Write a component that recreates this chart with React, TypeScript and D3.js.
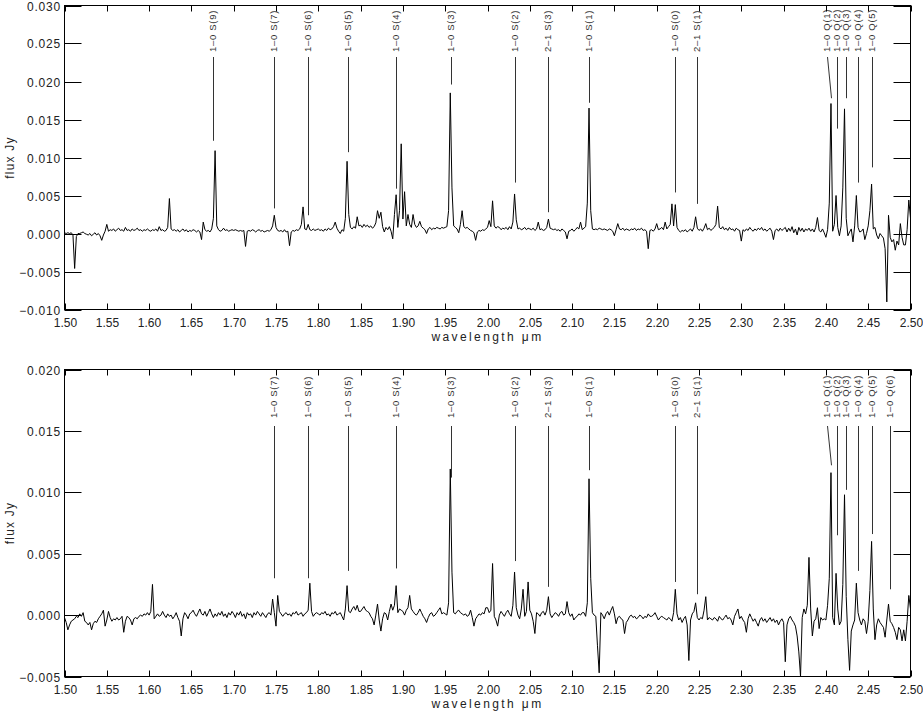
import React from "react";
import * as d3 from "d3";

// ---------- data ----------
const WAVE_MIN = 1.5;
const WAVE_MAX = 2.5;
const WAVE_STEP = 0.002; // sampling grid of the spectrum (micron)

// flux in units of 1e-4 Jy, one value per grid point (1.500 ... 2.500)
const TOP_FLUX_E4 = [
  1,0,1,0,1,-2,-46,-4,0,0,1,2,0,-1,-2,0,-3,-1,1,-2,0,-3,-9,-2,3,
  12,3,5,4,6,3,5,7,4,5,3,8,4,5,3,6,4,5,7,4,5,3,5,4,6,
  4,3,5,4,6,3,9,4,5,3,4,8,46,6,4,5,3,5,2,4,6,3,5,2,4,
  3,5,4,2,4,2,-8,15,5,3,4,2,6,20,109,10,5,3,4,7,4,5,3,4,5,
  4,5,4,3,4,3,4,-17,3,4,3,5,4,2,4,5,3,4,2,3,4,3,5,10,24,
  8,4,3,4,2,5,2,3,-16,2,4,3,5,4,6,12,35,6,5,12,5,4,6,4,5,
  6,4,5,3,6,4,7,5,6,9,15,7,3,0,5,3,20,95,25,8,6,9,7,22,10,
  11,8,12,9,11,8,10,7,9,14,30,20,28,9,2,8,5,9,3,-7,25,51,8,30,118,
  19,55,10,25,12,8,25,12,8,10,16,9,7,5,0,6,8,5,7,6,8,7,6,8,7,
  8,9,30,185,60,10,8,6,1,12,30,9,7,8,6,4,3,1,-9,2,4,3,5,4,6,
  8,17,9,43,10,7,9,8,5,7,6,8,5,9,6,15,52,18,6,7,5,6,8,5,7,
  6,5,7,4,6,15,5,6,4,5,8,19,7,6,5,6,4,5,3,6,4,2,-7,3,4,
  6,3,5,8,6,15,5,7,9,40,165,30,6,5,6,5,7,6,5,6,5,4,6,5,3,
  -3,5,13,6,5,7,4,6,5,4,6,5,7,4,6,5,7,4,5,3,-20,4,5,3,6,
  13,5,6,8,5,15,6,9,12,39,10,38,8,4,2,4,3,5,2,4,6,3,8,22,7,
  4,6,3,7,13,5,7,4,6,8,12,36,8,6,9,5,7,4,8,5,6,3,7,5,4,
  -10,5,3,6,4,8,5,3,6,4,7,5,8,4,6,3,5,7,3,-8,4,6,3,7,4,
  6,8,2,7,3,9,1,6,-2,8,3,7,2,6,4,7,3,6,2,8,21,4,2,6,1,
  -5,5,40,171,3,12,50,8,-3,10,60,164,20,-3,2,6,-11,10,50,8,2,3,6,-8,0,
  10,30,65,6,8,-2,-7,0,-3,-6,-20,-90,24,-5,-11,-8,-22,-10,-15,13,-5,-15,-15,5,44,
  20,
];

const BOTTOM_FLUX_E4 = [
  -2,-6,-12,-8,-5,-4,-3,-1,-2,1,-1,2,-5,-6,-8,-6,-12,-7,-5,-6,-3,-1,1,4,-9,
  -4,3,-2,-5,-3,-4,-2,-4,-3,-1,-14,-5,-1,-2,-4,-8,-3,-2,-3,-1,0,-1,1,0,2,
  0,3,25,-3,-1,1,-1,0,3,0,-2,1,-1,0,-3,-1,2,-2,-5,-17,-3,2,0,-3,1,
  2,4,1,-1,2,5,1,0,3,-1,2,5,1,-2,1,-1,2,0,3,-1,1,-2,2,0,3,
  1,-2,2,0,3,-1,1,-3,2,0,1,-2,2,0,3,1,-1,2,0,-2,1,2,0,13,2,
  -9,16,3,1,-1,1,2,0,1,-1,2,1,3,0,1,2,-1,1,2,4,26,3,-1,1,2,
  1,0,2,1,3,0,1,-1,2,1,3,0,1,2,-1,-4,5,24,3,2,5,7,4,8,3,
  3,5,7,4,3,2,-1,-3,-8,0,9,-4,-13,-3,2,1,-4,3,9,4,8,24,2,5,4,
  3,0,4,6,16,5,3,1,0,2,5,2,-1,-3,-6,-2,1,2,-1,0,2,4,6,1,2,
  1,0,10,119,35,2,1,3,4,2,1,0,1,-1,0,4,-2,-9,-3,-1,1,0,2,1,6,
  6,2,4,42,-1,-4,-9,0,3,1,-1,2,4,1,-1,8,35,6,0,-3,5,21,-1,3,27,
  4,1,-5,-15,2,1,-1,2,3,0,4,15,1,-2,0,2,1,-1,2,3,0,1,11,2,-1,
  1,-4,-2,-1,1,0,2,2,-1,10,111,30,2,0,-1,-25,-47,2,0,-3,1,3,0,4,7,
  1,-7,-2,-1,-3,-4,-15,-6,-4,-1,0,-2,-1,-3,-2,0,-1,-3,-1,-2,1,-1,-1,0,2,
  -1,-4,-2,-1,-2,-3,-4,-2,-3,-5,2,21,1,-4,-2,-6,-3,-1,-8,-37,-4,1,3,10,-2,
  -4,-2,-3,4,15,-4,-2,-3,-4,-2,-3,-5,-1,-3,-4,-2,0,-3,-2,-4,-8,-1,2,5,-3,
  -1,-4,-6,-14,-3,1,-2,-5,-3,-6,-9,-4,-2,-5,-3,-6,-4,-2,-5,-3,-6,-4,-8,-5,-3,
  -6,-38,-8,-3,-1,-4,-6,-9,-17,-30,-50,-2,5,1,8,47,5,-17,-5,-3,6,-11,-2,-4,-3,
  -4,8,30,116,-2,-8,34,5,-8,-5,25,98,15,-20,-45,-13,-8,-4,26,2,-4,-8,-3,-5,-15,
  -5,20,60,5,-20,-8,-3,-6,-8,-10,-18,-4,9,-5,-7,-10,-14,-20,-10,-12,-21,-12,-21,-5,16,
  5,
];

const X_TICKS = [1.5,1.55,1.6,1.65,1.7,1.75,1.8,1.85,1.9,1.95,2.0,2.05,2.1,2.15,2.2,2.25,2.3,2.35,2.4,2.45,2.5];
const TOP_Y_TICKS = [-0.01,-0.005,0,0.005,0.01,0.015,0.02,0.025,0.03];
const BOTTOM_Y_TICKS = [-0.005,0,0.005,0.01,0.015,0.02];
const TOP_Y_DOMAIN = [-0.01, 0.03];
const BOTTOM_Y_DOMAIN = [-0.005, 0.02];

// line identifications: label, wavelength of the line marker, wavelength of the label, flux at the marker's lower end
const TOP_LINE_LABELS = ["1–0 S(9)","1–0 S(7)","1–0 S(6)","1–0 S(5)","1–0 S(4)","1–0 S(3)","1–0 S(2)","2–1 S(3)","1–0 S(1)","1–0 S(0)","2–1 S(1)","1–0 Q(1)","1–0 Q(2)","1–0 Q(3)","1–0 Q(4)","1–0 Q(5)"];
const TOP_LINE_WAVES = [1.6753,1.7473,1.7875,1.8347,1.8914,1.9563,2.0330,2.0720,2.1204,2.2219,2.2479,2.4066,2.4134,2.4237,2.4375,2.4548];
const TOP_LABEL_WAVES = [1.6753,1.7473,1.7875,1.8347,1.8914,1.9563,2.0330,2.0720,2.1204,2.2219,2.2479,2.4017,2.4134,2.4237,2.4375,2.4548];
const TOP_LINE_ENDS = [0.0122,0.0033,0.0024,0.0107,0.0059,0.0196,0.0067,0.0028,0.0172,0.0054,0.0039,0.0178,0.0138,0.0178,0.0067,0.0087];

const BOTTOM_LINE_LABELS = ["1–0 S(7)","1–0 S(6)","1–0 S(5)","1–0 S(4)","1–0 S(3)","1–0 S(2)","2–1 S(3)","1–0 S(1)","1–0 S(0)","2–1 S(1)","1–0 Q(1)","1–0 Q(2)","1–0 Q(3)","1–0 Q(4)","1–0 Q(5)","1–0 Q(6)"];
const BOTTOM_LINE_WAVES = [1.7473,1.7875,1.8347,1.8914,1.9563,2.0330,2.0720,2.1204,2.2219,2.2479,2.4066,2.4134,2.4237,2.4375,2.4548,2.4756];
const BOTTOM_LABEL_WAVES = [1.7473,1.7875,1.8347,1.8914,1.9563,2.0330,2.0720,2.1204,2.2219,2.2479,2.4017,2.4134,2.4237,2.4375,2.4548,2.4756];
const BOTTOM_LINE_ENDS = [0.0030,0.0030,0.0036,0.0038,0.0112,0.0044,0.0023,0.0118,0.0027,0.0017,0.0122,0.0065,0.0102,0.0036,0.0066,0.0021];

// ---------- layout ----------
const W = 923;
const H = 712;
const X0 = 64.5;
const X1 = 910.5;
const FONT = "'Liberation Sans', Arial, Helvetica, sans-serif";
const INK = "#222";

const WAVES = d3.range(TOP_FLUX_E4.length).map((i) => WAVE_MIN + i * WAVE_STEP);

type PanelProps = {
  id: string;
  top: number;
  bottom: number;
  flux: number[];
  yDomain: number[];
  yTicks: number[];
  labels: string[];
  lineWaves: number[];
  labelWaves: number[];
  lineEnds: number[];
  textBottom: number;
  lineTop: number;
};

function fmtY(v: number) {
  const s = Math.abs(v).toFixed(3);
  return v < -1e-9 ? "\u2212" + s : s;
}

function Panel(p: PanelProps) {
  const x = d3.scaleLinear().domain([WAVE_MIN, WAVE_MAX]).range([X0, X1]);
  const y = d3.scaleLinear().domain(p.yDomain).range([p.bottom, p.top]);
  const line = d3
    .line<number>()
    .x((_, i) => x(WAVES[i]))
    .y((d) => y(d * 1e-4));
  const path = line(p.flux) || "";
  const xTickLen = 6;
  const yTickLen = 17;
  return (
    <g>
      <defs>
        <clipPath id={p.id + "-clip"}>
          <rect x={X0} y={p.top} width={X1 - X0} height={p.bottom - p.top} />
        </clipPath>
      </defs>
      {/* spectrum */}
      <path d={path} fill="none" stroke="#000" strokeWidth={1} clipPath={`url(#${p.id}-clip)`} strokeLinejoin="round" />
      {/* line markers */}
      {p.labels.map((lab, i) => {
        const lx = x(p.labelWaves[i]);
        const ex = x(p.lineWaves[i]);
        return (
          <g key={lab}>
            <line x1={Math.round(lx) + 0.5} y1={p.lineTop} x2={Math.round(ex) + 0.5} y2={y(p.lineEnds[i])} stroke="#333" strokeWidth={1} />
            <text
              transform={`translate(${Math.round(lx) - 0.5},${p.textBottom}) rotate(-90)`}
              dy="0.34em"
              fontSize={9.5}
              letterSpacing={0.7}
              fontFamily={FONT}
              fill="#333"
            >
              {lab}
            </text>
          </g>
        );
      })}
      {/* frame */}
      <rect x={X0} y={p.top} width={X1 - X0} height={p.bottom - p.top} fill="none" stroke="#000" strokeWidth={1} />
      {/* x ticks */}
      {X_TICKS.map((t) => {
        const tx = Math.round(x(t)) + 0.5;
        return (
          <g key={"x" + t}>
            <line x1={tx} x2={tx} y1={p.bottom} y2={p.bottom - xTickLen} stroke="#000" />
            <line x1={tx} x2={tx} y1={p.top} y2={p.top + xTickLen} stroke="#000" />
            <text x={tx} y={p.bottom + 17.5} textAnchor="middle" fontSize={12} fontFamily={FONT} fill={INK}>
              {t.toFixed(2)}
            </text>
          </g>
        );
      })}
      {/* y ticks */}
      {p.yTicks.map((t) => {
        const ty = Math.round(y(t)) + 0.5;
        return (
          <g key={"y" + t}>
            <line x1={X0} x2={X0 + yTickLen} y1={ty} y2={ty} stroke="#000" />
            <line x1={X1} x2={X1 - yTickLen} y1={ty} y2={ty} stroke="#000" />
            <text x={61} y={ty} dy="0.36em" textAnchor="end" fontSize={12} letterSpacing={0.8} fontFamily={FONT} fill={INK}>
              {fmtY(t)}
            </text>
          </g>
        );
      })}
      {/* axis titles */}
      <text x={(X0 + X1) / 2} y={p.bottom + 31} textAnchor="middle" fontSize={12} letterSpacing={2.4} fontFamily={FONT} fill={INK}>
        wavelength μm
      </text>
      <text
        transform={`translate(10,${(p.top + p.bottom) / 2}) rotate(-90)`}
        dy="0.36em"
        textAnchor="middle"
        fontSize={12}
        letterSpacing={1.2}
        fontFamily={FONT}
        fill={INK}
      >
        flux Jy
      </text>
    </g>
  );
}

export default function App() {
  return (
    <svg
      width={W}
      height={H}
      viewBox={`0 0 ${W} ${H}`}
      style={{ position: "absolute", left: 0, top: 0, background: "#fff" }}
    >
      <rect width={W} height={H} fill="#fff" />
      <Panel
        id="top"
        top={5.5}
        bottom={309.5}
        flux={TOP_FLUX_E4}
        yDomain={TOP_Y_DOMAIN}
        yTicks={TOP_Y_TICKS}
        labels={TOP_LINE_LABELS}
        lineWaves={TOP_LINE_WAVES}
        labelWaves={TOP_LABEL_WAVES}
        lineEnds={TOP_LINE_ENDS}
        textBottom={52}
        lineTop={57}
      />
      <Panel
        id="bottom"
        top={369.5}
        bottom={676.5}
        flux={BOTTOM_FLUX_E4}
        yDomain={BOTTOM_Y_DOMAIN}
        yTicks={BOTTOM_Y_TICKS}
        labels={BOTTOM_LINE_LABELS}
        lineWaves={BOTTOM_LINE_WAVES}
        labelWaves={BOTTOM_LABEL_WAVES}
        lineEnds={BOTTOM_LINE_ENDS}
        textBottom={418}
        lineTop={426}
      />
    </svg>
  );
}
